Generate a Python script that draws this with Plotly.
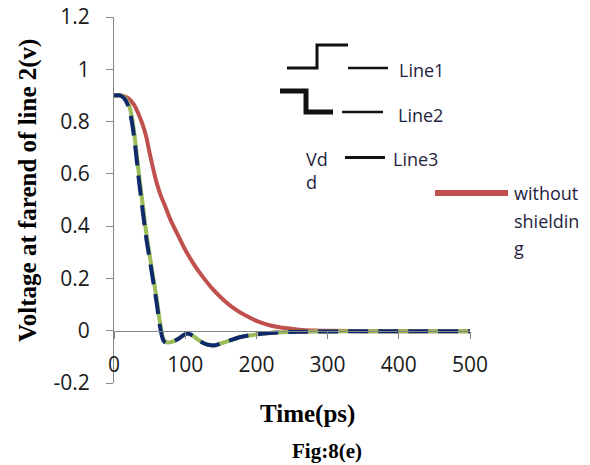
import plotly.graph_objects as go

# ---------------- data ----------------
red_t = [0, 10, 20, 28, 35, 40, 45, 50, 55, 60, 66, 72, 80, 90, 100, 112, 125, 140,
         155, 170, 185, 200, 220, 240, 260, 280, 300, 350, 400, 450, 500]
red_v = [0.90, 0.90, 0.89, 0.865, 0.825, 0.79, 0.745, 0.68, 0.62, 0.565, 0.515, 0.475,
         0.42, 0.365, 0.31, 0.255, 0.205, 0.155, 0.115, 0.083, 0.058, 0.038, 0.02, 0.01,
         0.004, 0.001, 0.0, -0.002, -0.002, -0.002, -0.002]

line_t = [0, 8, 14, 20, 25, 30, 35, 40, 45, 50, 55, 60, 65, 70, 75, 82, 90, 97, 103,
          110, 118, 126, 134, 142, 150, 160, 175, 190, 210, 235, 260, 300, 350, 400, 450, 500]
green_v = [0.90, 0.90, 0.895, 0.87, 0.82, 0.72, 0.60, 0.49, 0.38, 0.29, 0.205, 0.12,
           0.025, -0.035, -0.045, -0.042, -0.032, -0.018, -0.011, -0.018, -0.034, -0.048,
           -0.055, -0.056, -0.049, -0.040, -0.026, -0.018, -0.011, -0.006, -0.004,
           -0.003, -0.002, -0.002, -0.002, -0.002]
blue_v = [0.90, 0.90, 0.89, 0.86, 0.80, 0.70, 0.575, 0.465, 0.36, 0.275, 0.19, 0.105,
          0.01, -0.04, -0.047, -0.042, -0.032, -0.018, -0.011, -0.018, -0.034, -0.048,
          -0.055, -0.056, -0.049, -0.040, -0.026, -0.018, -0.011, -0.006, -0.004,
          -0.003, -0.002, -0.002, -0.002, -0.002]

x_ticks = [0, 100, 200, 300, 400, 500]
y_ticks = [-0.2, 0, 0.2, 0.4, 0.6, 0.8, 1, 1.2]
y_ticktext = ["-0.2", "0", "0.2", "0.4", "0.6", "0.8", "1", "1.2"]

# ---------------- layout helpers (screen pixel coords) ----------------
W, H = 590, 465
L, R, T, B = 114, 470, 17, 383  # plot area on screen


def px(x):
    return (x - L) / (R - L)


def py(y):
    return (B - y) / (B - T)


RED = "#C0504D"
GREEN = "#9BBB59"
BLUE = "#10296B"
AX = "#868686"
TXT = "#1f2340"

fig = go.Figure()
fig.add_trace(go.Scatter(x=red_t, y=red_v, mode="lines",
                         line=dict(color=RED, width=4, shape="spline")))
fig.add_trace(go.Scatter(x=line_t, y=green_v, mode="lines",
                         line=dict(color=GREEN, width=4, shape="spline")))
fig.add_trace(go.Scatter(x=line_t, y=blue_v, mode="lines",
                         line=dict(color=BLUE, width=4, shape="spline", dash="20px,10px")))

tickfont = dict(family="Open Sans", size=21, color="#1a1a1a")

fig.update_layout(
    width=W, height=H,
    margin=dict(l=L, r=W - R, t=T, b=H - B, autoexpand=False),
    plot_bgcolor="white", paper_bgcolor="white",
    showlegend=False,
    xaxis=dict(range=[0, 500], tickvals=x_ticks, anchor="free", position=0.2 / 1.4,
               showline=True, linecolor=AX, linewidth=1, ticks="outside", ticklen=7,
               tickcolor=AX, showgrid=False, zeroline=False, tickfont=tickfont,
               ticklabelstandoff=8, automargin=False, ticklabeloverflow="allow"),
    yaxis=dict(range=[-0.2, 1.2], tickvals=y_ticks, ticktext=y_ticktext,
               showline=True, linecolor=AX, linewidth=1, ticks="outside", ticklen=7,
               tickcolor=AX, showgrid=False, zeroline=False, tickfont=tickfont,
               ticklabelstandoff=12, automargin=False, ticklabeloverflow="allow"),
)

ann = []
serif = "Liberation Serif"
ann.append(dict(x=px(28), y=py(191), text="<b>Voltage at farend of line 2(v)</b>",
                textangle=-90, font=dict(family=serif, size=25, color="black")))
ann.append(dict(x=px(307), y=py(414), text="<b>Time(ps)</b>",
                font=dict(family=serif, size=25, color="black")))
ann.append(dict(x=px(327), y=py(451), text="<b>Fig:8(e)</b>",
                font=dict(family=serif, size=21, color="black")))

lf = dict(family="Open Sans", size=18, color=TXT)
for txt, x, y in [("Line1", 397, 70), ("Line2", 396, 115), ("Line3", 391, 159),
                  ("Vd", 304, 159), ("d", 304, 182),
                  ("without", 512, 193), ("shieldin", 512, 221), ("g", 512, 248)]:
    ann.append(dict(x=px(x), y=py(y), text=txt, xanchor="left", font=lf))

for a in ann:
    a.update(xref="paper", yref="paper", showarrow=False)
    a.setdefault("xanchor", "center")
    a.setdefault("yanchor", "middle")
fig.update_layout(annotations=ann)


def path(pts):
    return "M " + " L ".join(f"{px(x)},{py(y)}" for x, y in pts)


shapes = [
    (path([(287, 68), (317, 68), (317, 45), (348, 45)]), 3, "#111111"),
    (path([(348, 68), (388, 68)]), 2.5, "#111111"),
    (path([(280, 91), (306, 91), (306, 112), (333, 112)]), 5, "#111111"),
    (path([(342, 112), (383, 112)]), 2.5, "#111111"),
    (path([(345, 157.5), (385, 157.5)]), 3, "#111111"),
    (path([(435, 193), (508, 193)]), 6, RED),
]
for p, w, c in shapes:
    fig.add_shape(type="path", path=p, xref="paper", yref="paper",
                  line=dict(color=c, width=w))

fig.write_html("out.html", config={"displayModeBar": False},
               post_script="document.body.style.margin='0px';")
